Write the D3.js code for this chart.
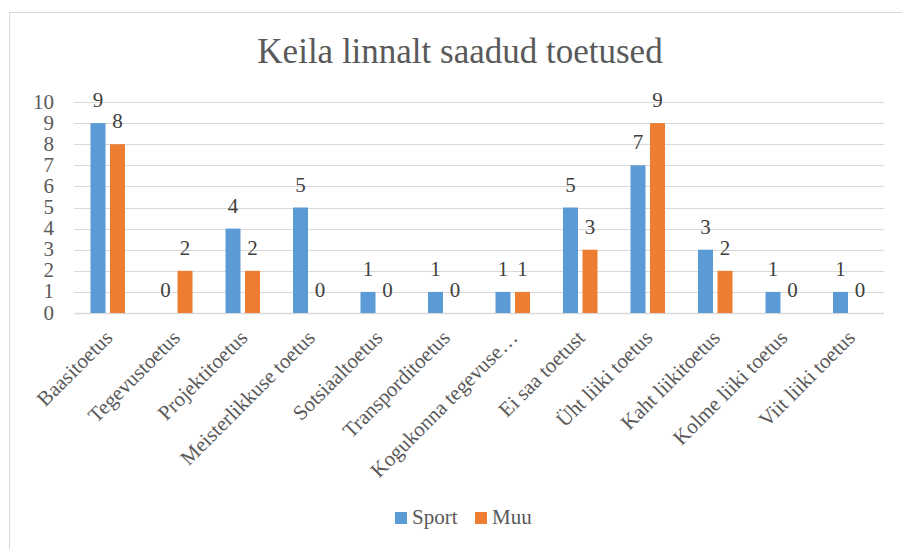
<!DOCTYPE html>
<html>
<head>
<meta charset="utf-8">
<script src="https://cdn.jsdelivr.net/npm/d3@7"></script>
<style>
  html, body { margin: 0; padding: 0; background: #fff; }
</style>
</head>
<body>
<svg id="chart" width="902" height="549"></svg>
<script>
const categories = ["Baasitoetus", "Tegevustoetus", "Projektitoetus", "Meisterlikkuse toetus", "Sotsiaaltoetus", "Transporditoetus", "Kogukonna tegevuse…", "Ei saa toetust", "Üht liiki toetus", "Kaht liikitoetus", "Kolme liiki toetus", "Viit liiki toetus"];
const seriesNames = ["Sport", "Muu"];
const sportValues = [9, 0, 4, 5, 1, 1, 1, 5, 7, 3, 1, 1];
const muuValues = [8, 2, 2, 0, 0, 0, 1, 3, 9, 2, 0, 0];
const yTicks = [0, 1, 2, 3, 4, 5, 6, 7, 8, 9, 10];
const colors = ["#5b9bd5", "#ed7d31"];
const titleText = "Keila linnalt saadud toetused";

(function () {
const svg = d3.select("#chart");
const FONT = "'Liberation Serif'";
const FS = 21;
const pLeft = 74, pRight = 884, pTop = 102, pBottom = 313;

function addText(x, y, str, size, anchor, fill, rotate) {
  const t = svg.append("text")
    .style("font-family", FONT)
    .attr("font-size", size)
    .attr("text-anchor", anchor)
    .attr("fill", fill)
    .text(str);
  if (rotate) {
    t.attr("transform", `translate(${x},${y}) rotate(${rotate})`);
  } else {
    t.attr("x", x).attr("y", y);
  }
  return t;
}

svg.append("rect").attr("x", 9.5).attr("y", 12.5).attr("width", 900).attr("height", 545)
  .attr("fill", "none").attr("stroke", "#d9d9d9").attr("stroke-width", 1);

const x0 = d3.scaleBand().domain(categories).range([pLeft, pRight]).paddingInner(0).paddingOuter(0);
const x1 = d3.scaleBand().domain(seriesNames).range([0, x0.bandwidth()]).paddingInner(0.2308).paddingOuter(0.846);
const y = d3.scaleLinear().domain([0, 10]).range([pBottom, pTop]);

yTicks.forEach(d => {
  svg.append("line")
    .attr("x1", pLeft).attr("x2", pRight)
    .attr("y1", Math.round(y(d)) + 0.5).attr("y2", Math.round(y(d)) + 0.5)
    .attr("stroke", "#d9d9d9").attr("stroke-width", d === 0 ? 1.5 : 1);
  addText(54, y(d) + 6.5, d, FS, "end", "#595959");
});

categories.forEach((c, i) => {
  const vals = [sportValues[i], muuValues[i]];
  vals.forEach((v, j) => {
    const bx = x0(c) + x1(seriesNames[j]);
    svg.append("rect")
      .attr("x", bx).attr("width", x1.bandwidth())
      .attr("y", y(v)).attr("height", pBottom - y(v))
      .attr("fill", colors[j]);
    addText(bx + x1.bandwidth() / 2, y(v) - 16, v, FS, "middle", "#404040");
  });
  addText(x0(c) + x0.bandwidth() / 2 + 6, pBottom + 26, c, FS, "end", "#595959", -45);
});

addText(460, 63, titleText, 35, "middle", "#595959");

const legX = [395, 475];
seriesNames.forEach((s, i) => {
  svg.append("rect").attr("x", legX[i]).attr("y", 512).attr("width", 12).attr("height", 12).attr("fill", colors[i]);
  addText(legX[i] + 17, 524, s, FS, "start", "#595959");
});
})();
</script>
</body>
</html>
